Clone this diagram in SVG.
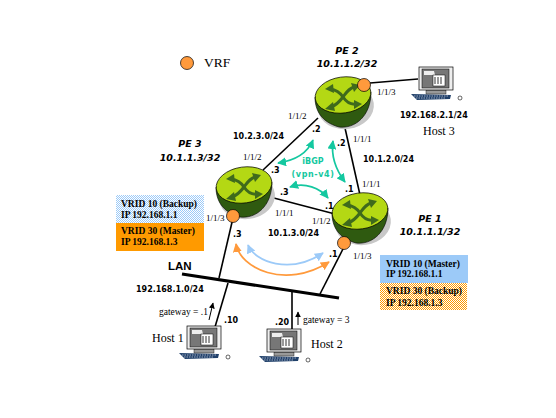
<svg xmlns="http://www.w3.org/2000/svg" width="556" height="418" viewBox="0 0 556 418">
<style>
.b{font:bold 8px "DejaVu Sans",sans-serif;fill:#000}
.s{font:9px "Liberation Serif",serif;fill:#000}
.g2{font:9.5px "Liberation Serif",serif;fill:#000}
.h{font:12px "Liberation Serif",serif;fill:#000}
.t{font:italic bold 9.5px "DejaVu Sans",sans-serif;fill:#000;text-anchor:middle}
.v{font:bold 9.5px "Liberation Serif",serif;fill:#000}
.c{font:bold 8px "DejaVu Sans",sans-serif;fill:#14c8a0;text-anchor:middle}
.l{stroke:#000;stroke-width:1.6;fill:none}
.vrf{fill:#ff9a3c;stroke:#000;stroke-width:.7}
.g{stroke:#14c8a0;stroke-width:1.8;fill:none;marker-start:url(#ag);marker-end:url(#ag)}
</style>
<defs>
<marker id="ag" viewBox="0 0 10 10" refX="9" refY="5" markerWidth="9" markerHeight="9" markerUnits="userSpaceOnUse" orient="auto-start-reverse"><path d="M0 0L10 5L0 10z" fill="#14c8a0"/></marker>
<marker id="ab" viewBox="0 0 10 10" refX="9" refY="5" markerWidth="9" markerHeight="9" markerUnits="userSpaceOnUse" orient="auto-start-reverse"><path d="M0 0L10 5L0 10z" fill="#9ccaf8"/></marker>
<marker id="ao" viewBox="0 0 10 10" refX="9" refY="5" markerWidth="9" markerHeight="9" markerUnits="userSpaceOnUse" orient="auto-start-reverse"><path d="M0 0L10 5L0 10z" fill="#ff9a3c"/></marker>
<marker id="ak" viewBox="0 0 10 10" refX="9" refY="5" markerWidth="6" markerHeight="6" markerUnits="userSpaceOnUse" orient="auto"><path d="M0 0L10 5L0 10z" fill="#000"/></marker>
<g id="router">
<ellipse cx="3" cy="7" rx="28" ry="22" fill="#c8c8c8" transform="rotate(-8 3 7)"/>
<path d="M-28 -3C-28 10 -22 22 -4 27C12 29 28 16 28 -8z" fill="#2f5a10" stroke="#000" stroke-width=".6"/>
<ellipse cx="0" cy="-5" rx="28" ry="18" fill="#b4d814" stroke="#000" stroke-width=".7" transform="rotate(-8 0 -5)"/>
<g stroke="#3f6a1c" stroke-width="3" fill="none"><path d="M-13 -11C-5 -10 -2 -6 0 -3S6 5 13 4"/><path d="M11 -13C5 -11 3 -7 0 -3S-6 5 -12 7"/></g>
<g fill="#3f6a1c"><path d="M-18 -11L-10 -16L-9 -7z"/><path d="M17 -15L8 -17L11 -8z"/><path d="M19 4L11 0L11 9z"/><path d="M-18 9L-10 2L-8 11z"/></g>
</g>
<g id="pc">
<path d="M-25 14L15 15L14 19L-19 20z" fill="#20406a"/>
<path d="M-22 16H12M-20 18H10" stroke="#c0c8d8" stroke-width=".8" stroke-dasharray="1.5 1"/>
<rect x="-10" y="10" width="20" height="4" fill="#999" stroke="#000" stroke-width=".4"/>
<rect x="-17" y="-13" width="34" height="23" fill="#eee" stroke="#000" stroke-width=".7"/>
<rect x="-14" y="-11" width="27" height="19" fill="#777" stroke="#000" stroke-width=".5"/>
<path d="M-12 -9H-2L-1 -5H-12z" fill="#eee"/>
<rect x="-3" y="-5" width="12" height="11" fill="#fff" stroke="#000" stroke-width=".5"/>
<path d="M-1 -3V4M2 -3V4M5 -3V4" stroke="#000" stroke-width=".8"/>
<circle cx="24" cy="18" r="2" fill="none" stroke="#000" stroke-width=".6"/>
</g>
<pattern id="pb" width="2" height="2" patternUnits="userSpaceOnUse"><rect width="2" height="2" fill="#fff"/><rect width="1" height="1" fill="#9ccaf8"/><rect x="1" y="1" width="1" height="1" fill="#9ccaf8"/></pattern>
<pattern id="po" width="2" height="2" patternUnits="userSpaceOnUse"><rect width="2" height="2" fill="#fff"/><rect width="1" height="1" fill="#ff9a00"/><rect x="1" y="1" width="1" height="1" fill="#ff9a00"/></pattern>
</defs>

<g id="connectors">
<path class="l" d="M318 118L263 170"/>
<path class="l" d="M345 128L360 195"/>
<path class="l" d="M270 197L335 214"/>
<path class="l" d="M370 83L418 79"/>
<path class="l" d="M233 218L219 278"/>
<path class="l" d="M344 247L320 294"/>
<path class="l" d="M228 283L215 327"/>
<path class="l" d="M292 291V330"/>
<path d="M182 274L339 298" stroke="#000" stroke-width="3.2" fill="none"/>
<path class="g" d="M333 141C331 155 336 170 345 182"/>
<path class="g" d="M313 140C308 152 298 160 278 163"/>
<path class="g" d="M290 187C305 182 320 188 328 198"/>
<path d="M248 245C255 262 290 275 323 253" stroke="#9ccaf8" stroke-width="1.8" fill="none" marker-start="url(#ab)" marker-end="url(#ab)"/>
<path d="M236 244C240 268 285 290 329 262" stroke="#ff9a3c" stroke-width="1.8" fill="none" marker-start="url(#ao)" marker-end="url(#ao)"/>
<path d="M209 320L213 303" stroke="#000" fill="none" marker-end="url(#ak)"/>
<path d="M298 325V312" stroke="#000" fill="none" marker-end="url(#ak)"/>
</g>

<g id="PE2"><use href="#router" x="343" y="100"/><circle class="vrf" cx="364" cy="85" r="6.5"/><text class="t" x="347" y="54">PE 2</text><text class="t" x="347" y="67">10.1.1.2/32</text></g>
<g id="PE3"><use href="#router" x="244" y="190"/><circle class="vrf" cx="233" cy="216" r="6.5"/><text class="t" x="190" y="147">PE 3</text><text class="t" x="190" y="161">10.1.1.3/32</text></g>
<g id="PE1"><use href="#router" x="360" y="216"/><circle class="vrf" cx="344" cy="243" r="6.5"/><text class="t" x="430" y="222">PE 1</text><text class="t" x="430" y="235">10.1.1.1/32</text></g>
<g id="legend"><circle class="vrf" cx="187" cy="63" r="6.5"/><text x="204" y="67" style="font:13.5px 'Liberation Serif',serif">VRF</text></g>

<g id="Host3"><use href="#pc" x="436" y="80"/><text class="b" x="400" y="118">192.168.2.1/24</text><text class="h" x="423" y="135">Host 3</text></g>
<g id="Host1"><use href="#pc" x="204" y="339"/><text class="h" x="152" y="342">Host 1</text></g>
<g id="Host2"><use href="#pc" x="284" y="342"/><text class="h" x="311" y="348">Host 2</text></g>

<g id="vrrp-left">
<rect x="116" y="195" width="88" height="28" fill="url(#pb)"/><rect x="116" y="223" width="88" height="28" fill="#ff9a00"/>
<text class="v" x="121" y="207">VRID 10 (Backup)</text><text class="v" x="121" y="218">IP 192.168.1.1</text>
<text class="v" x="121" y="234">VRID 30 (Master)</text><text class="v" x="121" y="245">IP 192.168.1.3</text>
</g>
<g id="vrrp-right">
<rect x="380" y="255" width="88" height="28" fill="#9ccaf8"/><rect x="380" y="283" width="87" height="27" fill="url(#po)"/>
<text class="v" x="386" y="267">VRID 10 (Master)</text><text class="v" x="386" y="277">IP 192.168.1.1</text>
<text class="v" x="386" y="294">VRID 30 (Backup)</text><text class="v" x="386" y="306">IP 192.168.1.3</text>
</g>

<g id="labels">
<text class="s" x="288" y="119">1/1/2</text><text class="s" x="377" y="95">1/1/3</text><text class="s" x="353" y="142">1/1/1</text>
<text class="s" x="243" y="160">1/1/2</text><text class="s" x="206" y="221">1/1/3</text><text class="s" x="275" y="216">1/1/1</text>
<text class="s" x="362" y="187">1/1/1</text><text class="s" x="312" y="224">1/1/2</text><text class="s" x="353" y="259">1/1/3</text>
<text class="b" x="233" y="139">10.2.3.0/24</text><text class="b" x="363" y="162">10.1.2.0/24</text><text class="b" x="268" y="236">10.1.3.0/24</text><text class="b" x="136" y="292">192.168.1.0/24</text>
<text class="b" x="312" y="132">.2</text><text class="b" x="337" y="146">.2</text><text class="b" x="271" y="173">.3</text><text class="b" x="280" y="195">.3</text><text class="b" x="345" y="192">.1</text><text class="b" x="325" y="209">.1</text>
<text class="b" x="233" y="237">.3</text><text class="b" x="329" y="257">.1</text><text class="b" x="224" y="323">.10</text><text class="b" x="275" y="325">.20</text>
<text class="c" x="313" y="164">iBGP</text><text class="c" x="313" y="177" style="letter-spacing:.6px">(vpn-v4)</text>
<text x="168" y="270" style="font:bold 11.5px 'Liberation Sans',sans-serif">LAN</text>
<text class="g2" x="159" y="315">gateway = .1</text><text class="g2" x="303" y="323">gateway = 3</text>
</g>
</svg>
